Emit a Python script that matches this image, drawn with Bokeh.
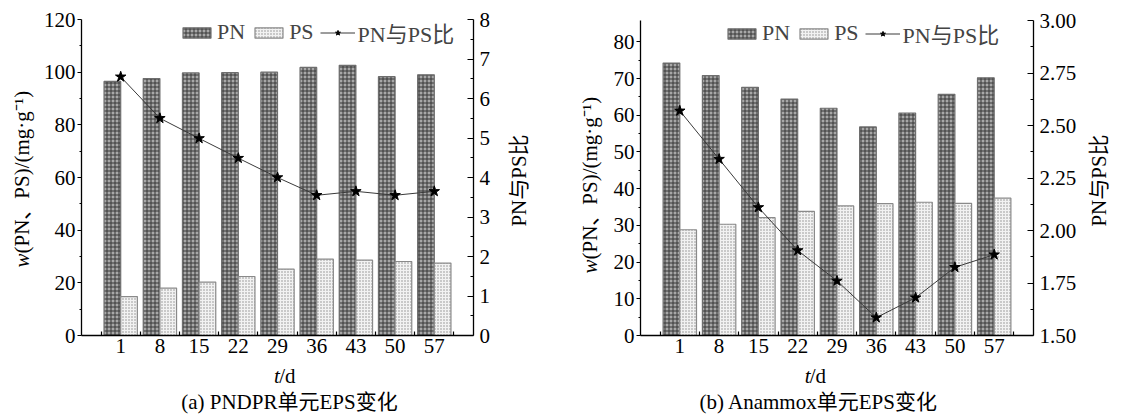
import math
from bokeh.plotting import figure
from bokeh.models import (Range1d, LinearAxis, FixedTicker, Legend, LegendItem,
                          ColumnDataSource, NumeralTickFormatter)
from bokeh.layouts import row, column
from bokeh.transform import dodge
from bokeh.core.properties import value
from bokeh.embed import file_html
from bokeh.resources import INLINE

# ---------------- data ----------------
days = ["1", "8", "15", "22", "29", "36", "43", "50", "57"]

pndpr_pn = [96.5, 97.6, 99.7, 99.8, 100.0, 101.8, 102.6, 98.3, 99.0]
pndpr_ps = [14.8, 18.0, 20.3, 22.4, 25.2, 29.0, 28.6, 28.1, 27.5]
pndpr_ratio = [6.55, 5.50, 4.99, 4.49, 4.00, 3.55, 3.65, 3.55, 3.65]

anammox_pn = [74.2, 70.8, 67.6, 64.4, 61.9, 56.8, 60.6, 65.7, 70.2]
anammox_ps = [28.8, 30.3, 32.1, 33.8, 35.3, 35.9, 36.3, 36.0, 37.4]
anammox_ratio = [2.57, 2.34, 2.11, 1.905, 1.76, 1.585, 1.68, 1.825, 1.885]

yticks_a = [0, 20, 40, 60, 80, 100, 120]
rticks_a = [0, 1, 2, 3, 4, 5, 6, 7, 8]
yticks_b = [0, 10, 20, 30, 40, 50, 60, 70, 80]
rticks_b = [1.50, 1.75, 2.00, 2.25, 2.50, 2.75, 3.00]

legend_labels = ["PN", "PS", "PN与PS比"]
left_label_italic = "w"
left_label_rest = "(PN、PS)/(mg·g⁻¹)"
right_label = "PN与PS比"
x_label_italic = "t"
x_label_rest = "/d"
title_a = "(a) PNDPR单元EPS变化"
title_b = "(b) Anammox单元EPS变化"

SERIF = "Liberation Serif"
MIXED = "Liberation Serif, Noto Sans CJK SC"
TICK_FS = "21px"
TXT_FS = "21px"
LEG_FS = "22px"
H = 417
MAIN_H = 362
AXIS_Y = 335          # pixel row of the x axis


def mids(ticks):
    return [(a + b) / 2 for a, b in zip(ticks[:-1], ticks[1:])]


def style_axis(ax):
    ax.axis_line_color = "black"
    ax.axis_line_width = 1.3
    ax.major_tick_line_color = "black"
    ax.minor_tick_line_color = "black"
    ax.major_tick_line_width = 1.2
    ax.minor_tick_line_width = 1.2
    ax.major_label_text_font = SERIF
    ax.major_label_text_font_size = TICK_FS
    ax.major_label_text_color = "black"


def text_fig(w, h):
    f = figure(width=w, height=h, x_range=Range1d(0, w), y_range=Range1d(0, h),
               output_backend="svg", toolbar_location=None,
               x_axis_location=None, y_axis_location=None,
               min_border=0, min_border_left=0, min_border_right=0,
               min_border_top=0, min_border_bottom=0)
    f.grid.visible = False
    f.outline_line_color = None
    f.background_fill_color = "white"
    f.border_fill_color = "white"
    return f


def put(f, x, y, txt, angle=0.0, align="left", italic=False, size=TXT_FS):
    f.text(x=[x], y=[y], text=[txt], angle=angle, text_align=align,
           text_baseline="middle", text_font=value(MIXED), text_font_size=size,
           text_color="black", text_font_style="italic" if italic else "normal")


def main_fig(width, bl, br, bt, pn, ps, ratio, y_max, yticks, r_min, r_max,
             rticks, r_fmt, leg_x, leg_y):
    n = len(days)
    idx = list(range(1, n + 1))
    src = ColumnDataSource(dict(idx=idx, pn=pn, ps=ps, ratio=ratio))
    p = figure(width=width, height=MAIN_H, x_range=Range1d(0, n + 1),
               y_range=Range1d(0, y_max), output_backend="svg",
               toolbar_location=None, min_border_left=bl, min_border_right=br,
               min_border_top=bt, min_border_bottom=MAIN_H - AXIS_Y)
    p.extra_y_ranges = {"ratio": Range1d(r_min, r_max)}
    p.grid.visible = False
    p.outline_line_color = None
    p.background_fill_color = "white"
    p.border_fill_color = "white"

    bw = 0.425
    pn_r = p.vbar(x=dodge("idx", -bw / 2), top="pn", width=bw, source=src,
                  fill_color="#a8a8a8", line_color="#6e6e6e", line_width=1.2,
                  hatch_pattern="cross", hatch_color="#363636",
                  hatch_scale=4, hatch_weight=1)
    ps_r = p.vbar(x=dodge("idx", bw / 2), top="ps", width=bw, source=src,
                  fill_color="#f2f2f2", line_color="#8a8a8a", line_width=1.2,
                  hatch_pattern="dot", hatch_color="#8c8c8c",
                  hatch_scale=3, hatch_weight=1)
    ln_r = p.line("idx", "ratio", source=src, y_range_name="ratio",
                  line_color="#3a3a3a", line_width=1)
    st_r = p.scatter("idx", "ratio", source=src, y_range_name="ratio",
                     marker="star", size=11, fill_color="black",
                     line_color="black")

    xa = p.xaxis[0]
    style_axis(xa)
    xa.ticker = FixedTicker(ticks=idx, minor_ticks=[i - 0.5 for i in range(1, n + 2)])
    xa.major_label_overrides = {i: d for i, d in zip(idx, days)}
    xa.major_tick_in = 0
    xa.major_tick_out = 0
    xa.minor_tick_in = 4
    xa.minor_tick_out = 0
    xa.major_label_standoff = 3

    ya = p.yaxis[0]
    style_axis(ya)
    ya.ticker = FixedTicker(ticks=yticks, minor_ticks=mids(yticks))
    ya.major_tick_in = 0
    ya.major_tick_out = 4
    ya.minor_tick_in = 0
    ya.minor_tick_out = 2
    ya.major_label_standoff = 2

    ra = LinearAxis(y_range_name="ratio",
                    ticker=FixedTicker(ticks=rticks, minor_ticks=mids(rticks)))
    style_axis(ra)
    ra.formatter = NumeralTickFormatter(format=r_fmt)
    ra.major_tick_in = 6
    ra.major_tick_out = 0
    ra.minor_tick_in = 3
    ra.minor_tick_out = 0
    ra.major_label_standoff = 6
    p.add_layout(ra, "right")

    legend = Legend(items=[LegendItem(label=legend_labels[0], renderers=[pn_r]),
                           LegendItem(label=legend_labels[1], renderers=[ps_r]),
                           LegendItem(label=legend_labels[2], renderers=[ln_r, st_r])],
                    orientation="horizontal", location=(leg_x, leg_y),
                    border_line_color=None, background_fill_alpha=0,
                    padding=0, margin=0, spacing=6, label_standoff=3,
                    glyph_width=35, glyph_height=13, label_height=25,
                    label_text_font=MIXED, label_text_font_size=LEG_FS)
    p.add_layout(legend)
    return p


def panel(g):
    """g holds the pixel geometry of one half (positions local to that half)."""
    main_w = g["total_w"] - g["left_w"] - g["right_w"]
    bl = g["frame_left"] - g["left_w"]
    br = (g["left_w"] + main_w) - g["frame_right"]
    frame_h = AXIS_Y - g["top"]
    m = main_fig(main_w, bl, br, g["top"], *g["data"], *g["ranges"],
                 g["frame_left_leg"], frame_h - 29)

    lf = text_fig(g["left_w"], H)
    y0 = (H - AXIS_Y) + g["w_start"]
    put(lf, g["left_cx"], y0, left_label_italic, angle=math.pi / 2, italic=True)
    put(lf, g["left_cx"], y0 + 14, left_label_rest, angle=math.pi / 2)

    rf = text_fig(g["right_w"], H)
    put(rf, g["right_cx"] - (g["total_w"] - g["right_w"]), H - 180, right_label,
        angle=math.pi / 2, align="center")

    bf = text_fig(main_w, H - MAIN_H)
    tx = g["td_cx"] - g["left_w"]
    put(bf, tx - 12, H - 375, x_label_italic, italic=True)
    put(bf, tx - 6, H - 375, x_label_rest)
    put(bf, g["cap_cx"] - g["left_w"], H - 401, g["title"], align="center")

    return row(lf, column(m, bf), rf)


geo_a = dict(total_w=560, left_w=40, right_w=60, frame_left=81, frame_right=473,
             top=19, data=(pndpr_pn, pndpr_ps, pndpr_ratio),
             ranges=(120, yticks_a, 0, 8, rticks_a, "0"),
             frame_left_leg=98, w_start=68, left_cx=21, right_cx=518,
             td_cx=278, cap_cx=284, title=title_a)
geo_b = dict(total_w=565, left_w=46, right_w=45, frame_left=80, frame_right=473,
             top=20, data=(anammox_pn, anammox_ps, anammox_ratio),
             ranges=(85.8, yticks_b, 1.5, 3.0, rticks_b, "0.00"),
             frame_left_leg=84, w_start=62, left_cx=29, right_cx=538,
             td_cx=256, cap_cx=261, title=title_b)

layout = row(panel(geo_a), panel(geo_b))
open("out.html", "w").write(file_html(layout, INLINE))
